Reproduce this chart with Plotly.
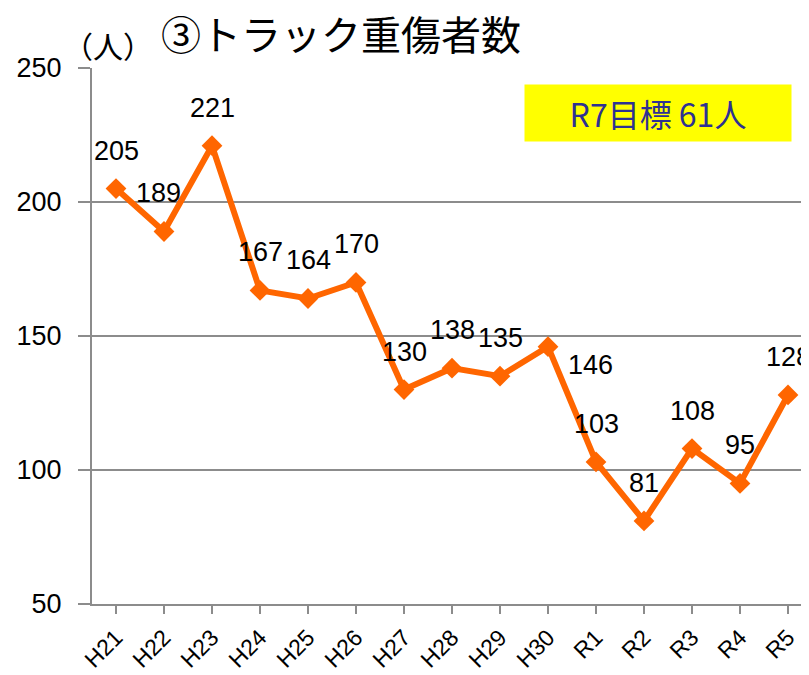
import plotly.graph_objects as go

# 年度とトラック重傷者数
years = ["H21", "H22", "H23", "H24", "H25", "H26", "H27", "H28",
         "H29", "H30", "R1", "R2", "R3", "R4", "R5"]
injured = [205, 189, 221, 167, 164, 170, 130, 138, 135, 146, 103, 81, 108, 95, 128]
y_ticks = [50, 100, 150, 200, 250]

title_text = "③トラック重傷者数"
unit_text = "（人）"
target_text = "R7目標 61人"

FONT = "Liberation Sans, Arial, Noto Sans CJK JP"
JP_FONT = "Noto Sans CJK JP, Liberation Sans"
ORANGE = "#ff6600"
GRID = "#8c8c8c"

x_idx = list(range(len(years)))

fig = go.Figure()
fig.add_trace(go.Scatter(
    x=x_idx, y=injured, mode="lines+markers",
    line=dict(color=ORANGE, width=6),
    marker=dict(symbol="diamond", size=16, color=ORANGE),
    hoverinfo="skip", showlegend=False,
))

# label offsets in px (most sit above the point; a couple are nudged)
label_shift = {1: (-6, 38), 9: (42, -18)}
for i, v in enumerate(injured):
    dx, dy = label_shift.get(i, (0, 38))
    fig.add_annotation(x=i, y=v, text=str(v), showarrow=False,
                       xshift=dx, yshift=dy,
                       font=dict(family=FONT, size=27, color="black"))

fig.add_annotation(x=0.094, y=1.065, xref="paper", yref="paper",
                   xanchor="left", yanchor="middle", showarrow=False,
                   text=title_text, font=dict(family=JP_FONT, size=40, color="black"))
fig.add_annotation(x=-0.043, y=1.043, xref="paper", yref="paper",
                   xanchor="left", yanchor="middle", showarrow=False,
                   text=unit_text, font=dict(family=JP_FONT, size=30, color="black"))

# 目標ボックス
fig.add_annotation(x=11.29, y=233.2, xref="x", yref="y",
                   xanchor="center", yanchor="middle", showarrow=False,
                   text=target_text, bgcolor="#ffff00",
                   width=264, height=54, borderpad=1,
                   font=dict(family=JP_FONT, size=32, color="#2e3192"))

fig.update_layout(
    width=809, height=675,
    margin=dict(l=84, r=8, t=60, b=79),
    paper_bgcolor="white", plot_bgcolor="white",
    xaxis=dict(
        range=[-0.5, 14.4375], tickmode="array", tickvals=x_idx, ticktext=years,
        tickson="boundaries", ticks="outside", ticklen=8, tickwidth=2, tickcolor=GRID,
        showline=True, linecolor=GRID, linewidth=2, showgrid=False, zeroline=False,
        tickangle=-45, tickfont=dict(family=FONT, size=23, color="black"),
        ticklabelstandoff=1, automargin=False,
    ),
    yaxis=dict(
        range=[50, 250], tickvals=y_ticks,
        ticks="outside", ticklen=12, tickwidth=2, tickcolor=GRID,
        showline=True, linecolor=GRID, linewidth=2,
        showgrid=True, gridcolor=GRID, gridwidth=2, zeroline=False,
        tickfont=dict(family=FONT, size=27, color="black"),
        ticklabelstandoff=11, automargin=False,
    ),
)

fig.write_html("out.html")
